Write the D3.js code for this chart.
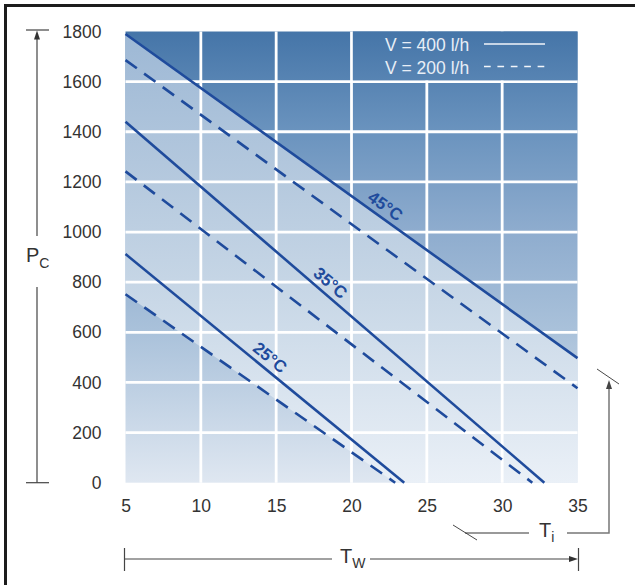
<!DOCTYPE html>
<html>
<head>
<meta charset="utf-8">
<script src="https://cdn.jsdelivr.net/npm/d3@7"></script>
<style>
body { margin: 0; background: #fff; }
svg { display: block; }
text { font-family: "Liberation Sans", Arial, sans-serif; }
</style>
</head>
<body>
<div id="chart"></div>
<script>
// tick values
var twTicks = [5, 10, 15, 20, 25, 30, 35];
var pcTicks = [0, 200, 400, 600, 800, 1000, 1200, 1400, 1600, 1800];

// curves [Tw, Pc] - solid is V = 400 l/h, dashed is V = 200 l/h
var c45_400 = [[5, 1790], [35, 497]];
var c45_200 = [[5, 1686], [35, 377]];
var c35_400 = [[5, 1440], [32.8, 0]];
var c35_200 = [[5, 1242], [32.0, 0]];
var c25_400 = [[5, 912], [23.5, 0]];
var c25_200 = [[5, 752], [22.9, 0]];

var curveNames = ["45°C", "35°C", "25°C"];
var labelTw = [21.8, 18.1, 14.1];
var legendLabels = ["V = 400 l/h", "V = 200 l/h"];

var W = 635, H = 585;
var blue = "#1f4b9c";

var x = d3.scaleLinear().domain([5, 35]).range([125.5, 577.5]);
var y = d3.scaleLinear().domain([0, 1800]).range([482.7, 31.5]);

var svg = d3.select("#chart").append("svg").attr("width", W).attr("height", H);
var defs = svg.append("defs");

function grad(id, stops) {
    var g = defs.append("linearGradient").attr("id", id)
        .attr("gradientUnits", "userSpaceOnUse")
        .attr("x1", 0).attr("x2", 0).attr("y1", y(1800)).attr("y2", y(0));
    stops.forEach(function (s) {
        g.append("stop").attr("offset", s[0]).attr("stop-color", s[1]);
    });
}
grad("base", [[0, "#4575a8"], [0.22, "#6a93be"], [0.44, "#8eacce"], [0.66, "#a9c1da"], [1, "#dfe7f1"]]);
grad("band", [[0, "#9db8d5"], [0.33, "#b5c9de"], [0.6, "#c9d8e7"], [1, "#eaf0f7"]]);

var line = d3.line().x(function (d) { return x(d[0]); }).y(function (d) { return y(d[1]); });

// background
svg.append("rect")
    .attr("x", x(5)).attr("y", y(1800))
    .attr("width", x(35) - x(5)).attr("height", y(0) - y(1800))
    .attr("fill", "url(#base)");

// lighter band between 45°C / 400 and 25°C / 200
var bandPts = c45_400.concat([[35, 0]], c25_200.slice().reverse());
svg.append("path").attr("d", line(bandPts) + "Z").attr("fill", "url(#band)");

// grid
var grid = svg.append("g").attr("stroke", "#fff").attr("stroke-width", 2.8);
twTicks.slice(1, -1).forEach(function (t) {
    grid.append("line").attr("x1", x(t)).attr("x2", x(t)).attr("y1", y(1800)).attr("y2", y(0));
});
pcTicks.slice(1, -1).forEach(function (t) {
    grid.append("line").attr("x1", x(5)).attr("x2", x(35)).attr("y1", y(t)).attr("y2", y(t));
});

// legend box covers the top row right of 20
svg.append("rect")
    .attr("x", x(20) + 1.4).attr("y", y(1800))
    .attr("width", x(35) - x(20) - 1.4).attr("height", y(1600) - y(1800) - 1.4)
    .attr("fill", "url(#base)");

var legend = svg.append("g");
legendLabels.forEach(function (l, i) {
    var by = 51 + i * 22.5;
    legend.append("text").text(l).attr("x", 385).attr("y", by)
        .style("font-size", "17.5px").attr("fill", "#e8eef6");
    legend.append("line").attr("x1", 484).attr("x2", 545).attr("y1", by - 7).attr("y2", by - 7)
        .attr("stroke", "#f2f5fa").attr("stroke-width", 1.4)
        .attr("stroke-dasharray", i == 1 ? "6.7,6.7" : null);
});

// curves
var solids = [c45_400, c35_400, c25_400];
var dashed = [c45_200, c35_200, c25_200];
solids.forEach(function (c) {
    svg.append("path").attr("d", line(c)).attr("fill", "none")
        .attr("stroke", blue).attr("stroke-width", 2.6);
});
dashed.forEach(function (c) {
    svg.append("path").attr("d", line(c)).attr("fill", "none")
        .attr("stroke", blue).attr("stroke-width", 2.6).attr("stroke-dasharray", "14,9");
});

// curve labels, rotated along the solid line
solids.forEach(function (c, i) {
    var p0 = c[0], p1 = c[1];
    var t = labelTw[i];
    var v = p0[1] + (p1[1] - p0[1]) * (t - p0[0]) / (p1[0] - p0[0]);
    var a = Math.atan2(y(p1[1]) - y(p0[1]), x(p1[0]) - x(p0[0]));
    var px = x(t) + 12 * Math.sin(a);
    var py = y(v) - 12 * Math.cos(a);
    svg.append("text").text(curveNames[i])
        .attr("transform", "translate(" + px + "," + py + ") rotate(" + (a * 180 / Math.PI) + ")")
        .attr("text-anchor", "middle").attr("dy", "0.36em")
        .style("font-size", "17px").style("font-weight", "bold").attr("fill", blue);
});

// axes
var yAxis = svg.append("g").attr("transform", "translate(" + x(5) + ",0)")
    .call(d3.axisLeft(y).tickValues(pcTicks).tickFormat(d3.format("d")).tickSize(0).tickPadding(24));
var xAxis = svg.append("g").attr("transform", "translate(0," + y(0) + ")")
    .call(d3.axisBottom(x).tickValues(twTicks).tickFormat(d3.format("d")).tickSize(0).tickPadding(17));
[yAxis, xAxis].forEach(function (a) {
    a.select(".domain").remove();
    a.attr("font-family", null).attr("font-size", null);
    a.selectAll("text").style("font-size", "17.5px").attr("fill", "#333");
});

// Pc arrow
var ann = svg.append("g").attr("stroke", "#444").attr("stroke-width", 1.2).attr("fill", "none");
ann.append("line").attr("x1", 37).attr("x2", 37).attr("y1", y(0)).attr("y2", 287);
ann.append("line").attr("x1", 37).attr("x2", 37).attr("y1", 236).attr("y2", y(1800) + 4);
ann.append("line").attr("x1", 26).attr("x2", 49).attr("y1", y(0)).attr("y2", y(0));
ann.append("line").attr("x1", 26).attr("x2", 49).attr("y1", y(1800) - 1.5).attr("y2", y(1800) - 1.5);
svg.append("path").attr("d", "M37," + (y(1800) - 1) + "l-3,9h6z").attr("fill", "#333");

// Tw arrow
ann.append("line").attr("x1", x(5) - 1).attr("x2", 332).attr("y1", 559).attr("y2", 559);
ann.append("line").attr("x1", 370).attr("x2", x(35) - 4).attr("y1", 559).attr("y2", 559);
ann.append("line").attr("x1", x(5) - 1).attr("x2", x(5) - 1).attr("y1", 548).attr("y2", 571);
ann.append("line").attr("x1", x(35) + 1).attr("x2", x(35) + 1).attr("y1", 548).attr("y2", 571);
svg.append("path").attr("d", "M" + (x(35) + 0.5) + ",559l-9,-3v6z").attr("fill", "#333");

// Ti arrow
var ti = svg.append("g").attr("stroke", "#777").attr("stroke-width", 1.5).attr("fill", "none");
ti.append("path").attr("d", "M465,533H529");
ti.append("path").attr("d", "M567,533H609V388");
svg.append("path").attr("d", "M609,380l-3,9h6z").attr("fill", "#444");
var tk = svg.append("g").attr("stroke", "#333").attr("stroke-width", 0.9);
tk.append("line").attr("x1", 453).attr("y1", 525).attr("x2", 477).attr("y2", 540);
tk.append("line").attr("x1", 597).attr("y1", 369).attr("x2", 619).attr("y2", 384);

// axis titles
function title(tx, ty, main, sub, dy) {
    var t = svg.append("text").attr("x", tx).attr("y", ty).attr("fill", "#333");
    t.append("tspan").text(main).style("font-size", "20px");
    t.append("tspan").text(sub).style("font-size", "14px").attr("dy", dy);
}
title(26, 262, "P", "C", 6);
title(340, 563, "T", "W", 5);
title(539, 537, "T", "i", 5);

// frame
svg.append("path").attr("d", "M5.5,585V5.5H635").attr("fill", "none")
    .attr("stroke", "#1c1c1c").attr("stroke-width", 3);
</script>
</body>
</html>
